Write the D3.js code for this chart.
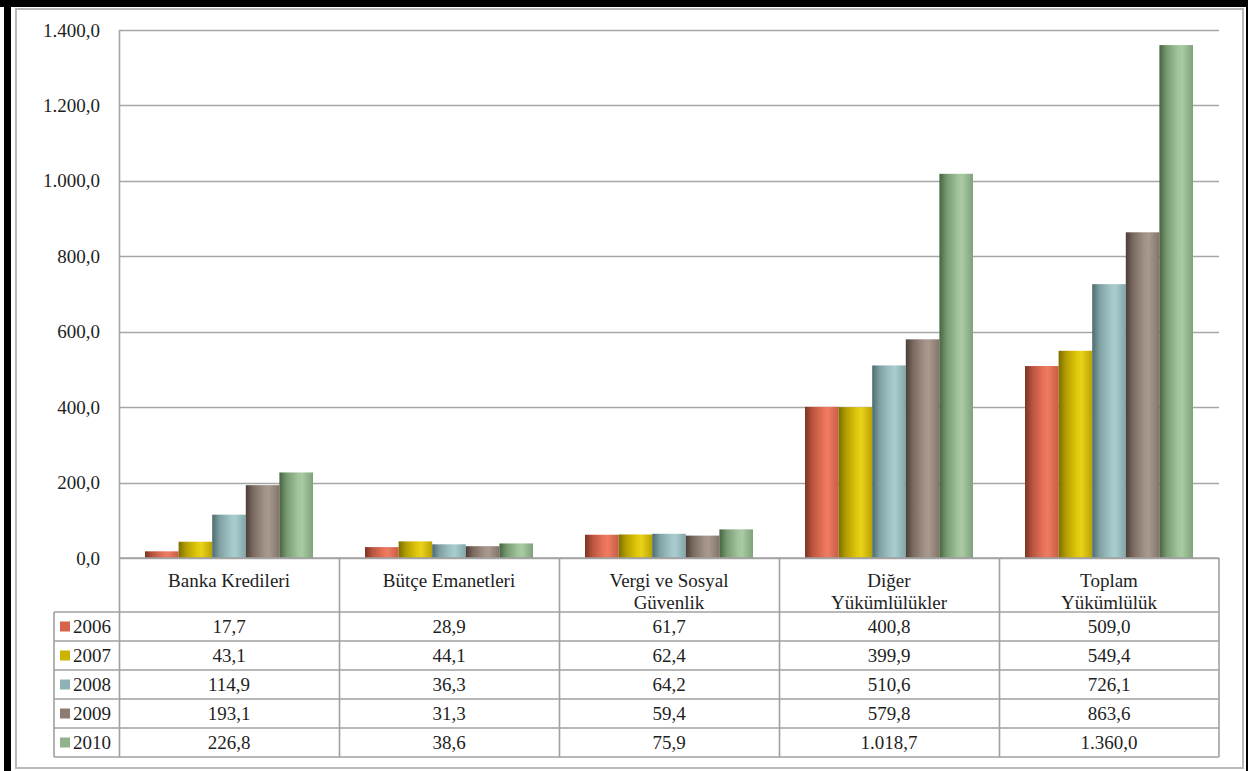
<!DOCTYPE html>
<html><head><meta charset="utf-8">
<script src="https://cdn.jsdelivr.net/npm/d3@7"></script>
<style>html,body{margin:0;padding:0;background:#fff;}svg{display:block;}</style>
</head><body>
<script>
const categories = ["Banka Kredileri", "Bütçe Emanetleri", "Vergi ve Sosyal Güvenlik", "Diğer Yükümlülükler", "Toplam Yükümlülük"];
const categoryLines = [["Banka Kredileri"], ["Bütçe Emanetleri"], ["Vergi ve Sosyal", "Güvenlik"], ["Diğer", "Yükümlülükler"], ["Toplam", "Yükümlülük"]];
const years = ["2006", "2007", "2008", "2009", "2010"];
const values2006 = [17.7, 28.9, 61.7, 400.8, 509.0];
const values2007 = [43.1, 44.1, 62.4, 399.9, 549.4];
const values2008 = [114.9, 36.3, 64.2, 510.6, 726.1];
const values2009 = [193.1, 31.3, 59.4, 579.8, 863.6];
const values2010 = [226.8, 38.6, 75.9, 1018.7, 1360.0];
const tickValues = [0, 200, 400, 600, 800, 1000, 1200, 1400];

const seriesValues = [values2006, values2007, values2008, values2009, values2010];
const swatch = ["#d8624a", "#cbb300", "#8fb3b5", "#8e7c72", "#8fb28a"];
const grads = [
  ["#7a3424", "#b9543e", "#e8735a", "#ee7c62", "#c85c46"],
  ["#7d6d00", "#b39d00", "#e2c80c", "#e9d21a", "#b9a200"],
  ["#4d6b6e", "#7fa0a2", "#a2c6c8", "#a9cdcf", "#83a5a7"],
  ["#4a3e38", "#7b6a60", "#a29187", "#a89a90", "#857368"],
  ["#46643f", "#789a72", "#a2c49c", "#a9caa3", "#7ea279"]
];

const W = 1248, H = 771;
const loc = d3.formatLocale({decimal: ",", thousands: ".", grouping: [3], currency: ["", ""]});
const fmt = loc.format(",.1f");
const FONT = "'Liberation Serif', 'Times New Roman', serif";
const TXT = "#1e1e1e";
const GRID = "#a6a6a6";

const svg = d3.select("body").append("svg").attr("width", W).attr("height", H);
const defs = svg.append("defs");
grads.forEach((g, i) => {
  const lg = defs.append("linearGradient").attr("id", "g" + i).attr("x1", "0").attr("x2", "1").attr("y1", "0").attr("y2", "0");
  const offs = [0, 0.22, 0.55, 0.68, 1];
  g.forEach((c, j) => lg.append("stop").attr("offset", offs[j]).attr("stop-color", c));
});

// page decoration
svg.append("rect").attr("x", 0).attr("y", 0).attr("width", W).attr("height", 7).attr("fill", "#000");
svg.append("rect").attr("x", 4).attr("y", 0).attr("width", 7).attr("height", H).attr("fill", "#000");
svg.append("rect").attr("x", 1246).attr("y", 0).attr("width", 2).attr("height", H).attr("fill", "#000");
svg.append("rect").attr("x", 16).attr("y", 9).attr("width", 1227).attr("height", 759)
  .attr("fill", "#fff").attr("stroke", "#b9b9b9").attr("stroke-width", 2);

const plotL = 119, plotR = 1219, plotT = 30, plotB = 558;
const y = d3.scaleLinear().domain([0, 1400]).range([plotB, plotT]);
const x = d3.scaleBand().domain(categories).range([plotL, plotR]).padding(0);
const xi = d3.scaleBand().domain(years).range([0, x.bandwidth()]).paddingInner(0).paddingOuter(0.774);

// gridlines
svg.append("g").selectAll("line").data(tickValues).join("line")
  .attr("x1", plotL).attr("x2", plotR)
  .attr("y1", d => Math.round(y(d)) + 0.5).attr("y2", d => Math.round(y(d)) + 0.5)
  .attr("stroke", GRID).attr("stroke-width", 1.6);

// y tick labels
const yAxis = d3.axisLeft(y).tickValues(tickValues).tickFormat(fmt).tickSize(0).tickPadding(19);
const ya = svg.append("g").attr("transform", `translate(${plotL},0)`).call(yAxis);
ya.select(".domain").remove();
ya.selectAll("text").attr("font-family", FONT).attr("font-size", 19).attr("fill", TXT);

// bars
const rows = years.map((yr, i) => ({year: yr, i, vals: seriesValues[i]}));
const bars = svg.append("g");
rows.forEach(r => {
  bars.selectAll(null).data(categories.map((c, k) => ({c, v: r.vals[k]}))).join("rect")
    .attr("x", d => x(d.c) + xi(r.year))
    .attr("width", xi.bandwidth())
    .attr("y", d => y(d.v))
    .attr("height", d => y(0) - y(d.v))
    .attr("fill", `url(#g${r.i})`);
});

// plot left border
svg.append("line").attr("x1", plotL + 0.5).attr("x2", plotL + 0.5).attr("y1", plotT).attr("y2", plotB)
  .attr("stroke", GRID).attr("stroke-width", 1.6);

// data table
const headB = 612;
const rowY = d3.scaleBand().domain(years).range([headB, 757]);
const legL = 54;
const tb = svg.append("g").attr("stroke", "#a0a0a0").attr("stroke-width", 1.6).attr("fill", "none");
// header top (axis)
tb.append("line").attr("x1", plotL).attr("x2", plotR).attr("y1", plotB).attr("y2", plotB);
// row lines
[headB, ...years.map(yr => rowY(yr) + rowY.bandwidth())].forEach(v => {
  tb.append("line").attr("x1", legL).attr("x2", plotR).attr("y1", v).attr("y2", v);
});
// verticals
categories.forEach(c => {
  tb.append("line").attr("x1", x(c) + 0.5).attr("x2", x(c) + 0.5).attr("y1", plotB).attr("y2", 757);
});
tb.append("line").attr("x1", plotR).attr("x2", plotR).attr("y1", plotB).attr("y2", 757);
tb.append("line").attr("x1", legL).attr("x2", legL).attr("y1", headB).attr("y2", 757);

// header labels
categories.forEach((c, k) => {
  const t = svg.append("text").attr("x", x(c) + x.bandwidth() / 2).attr("y", 587)
    .attr("text-anchor", "middle").attr("font-family", FONT).attr("font-size", 19).attr("fill", TXT);
  categoryLines[k].forEach((ln, j) => {
    t.append("tspan").attr("x", x(c) + x.bandwidth() / 2).attr("dy", j === 0 ? 0 : 21.5).text(ln);
  });
});

// rows
rows.forEach(r => {
  const cy = rowY(r.year) + rowY.bandwidth() / 2;
  svg.append("rect").attr("x", 60).attr("y", cy - 5).attr("width", 10).attr("height", 10).attr("fill", swatch[r.i]);
  svg.append("text").attr("x", 73).attr("y", cy + 6.5).attr("font-family", FONT).attr("font-size", 19)
    .attr("fill", TXT).text(r.year);
  svg.append("g").selectAll("text").data(categories.map((c, k) => ({c, v: r.vals[k]}))).join("text")
    .attr("x", d => x(d.c) + x.bandwidth() / 2).attr("y", cy + 6.5)
    .attr("text-anchor", "middle").attr("font-family", FONT).attr("font-size", 19).attr("fill", TXT)
    .text(d => fmt(d.v));
});
</script>
</body></html>
